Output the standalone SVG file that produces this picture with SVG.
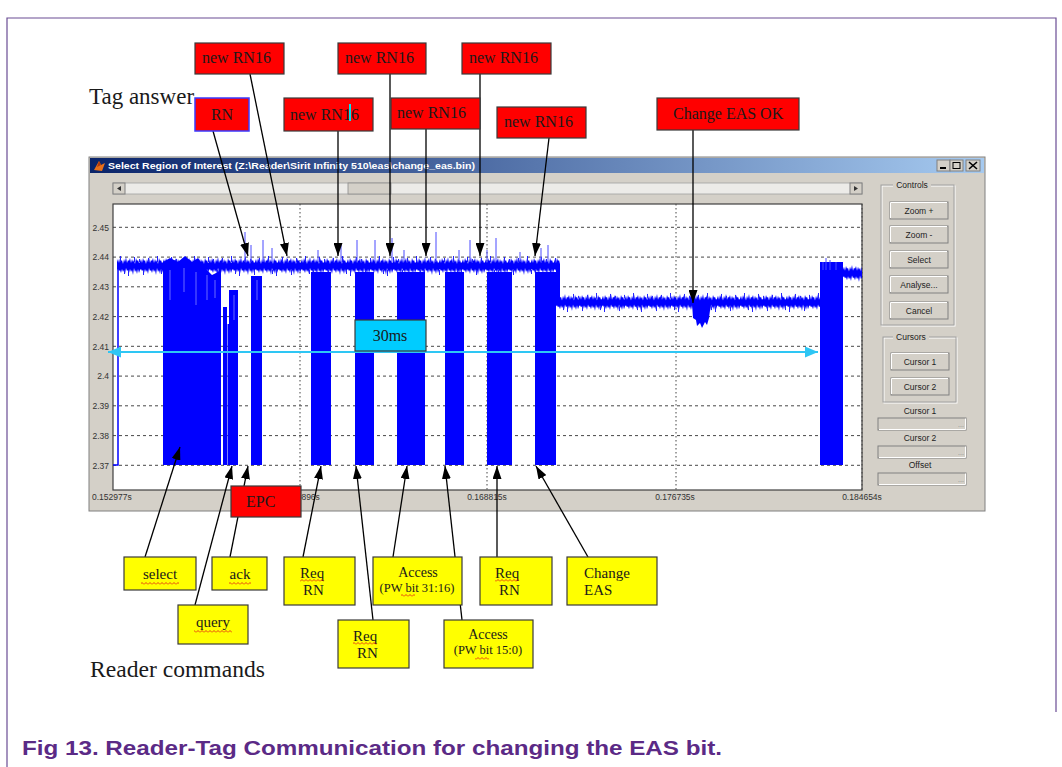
<svg xmlns="http://www.w3.org/2000/svg" width="1062" height="767" viewBox="0 0 1062 767">
<style>
  .serif{font-family:"Liberation Serif","Times New Roman",serif;fill:#1a1a1a}
  .ui{font-family:"Liberation Sans",Arial,sans-serif;fill:#222}
  .tick{font-family:"Liberation Sans",Arial,sans-serif;font-size:8.5px;fill:#333}
  .red{fill:#ff0000;stroke:#3a3a3a;stroke-width:1.2}
  .yel{fill:#ffff00;stroke:#3a3a3a;stroke-width:1.2}
  .grid{stroke:#333;stroke-width:0.9;stroke-dasharray:3 3;fill:none}
  .vgrid{stroke:#444;stroke-width:1;stroke-dasharray:1.5 2.5;fill:none}
  .btn{fill:#d4d0c8;stroke:#808080;stroke-width:1}
  .btnhi{fill:none;stroke:#ffffff;stroke-width:1}
  .field{fill:#d4d0c8;stroke:#808080;stroke-width:1}
  .conn{stroke:#000;stroke-width:1.3;fill:none;marker-end:url(#ah)}
  .sig{fill:#0000ff}
  .spk{stroke:#4a4aff;stroke-width:1}
  .sq{fill:url(#wavy)}
</style>
<defs>
  <marker id="ah" viewBox="0 0 13 9" refX="13" refY="4.5" markerWidth="13" markerHeight="9" markerUnits="userSpaceOnUse" orient="auto">
    <path d="M0,0 L13,4.5 L0,9 Z" fill="#000"/>
  </marker>
  <marker id="ahc" viewBox="0 0 13 11" refX="13" refY="5.5" markerWidth="13" markerHeight="11" markerUnits="userSpaceOnUse" orient="auto-start-reverse">
    <path d="M0,0 L13,5.5 L0,11 Z" fill="#2ec6f4"/>
  </marker>
  <linearGradient id="tbar" x1="0" y1="0" x2="1" y2="0">
    <stop offset="0" stop-color="#0a246a"/>
    <stop offset="1" stop-color="#a6caf0"/>
  </linearGradient>
  <!-- noisy signal band tile -->
  <pattern id="noise" patternUnits="userSpaceOnUse" width="23" height="20">
    <path fill="#0000ff" d="M0,6 L1,3 L2,7 L3,2 L4,5 L5,4 L6,8 L7,3 L8,6 L9,1 L10,7 L11,4 L12,5 L13,2 L14,7 L15,3 L16,6 L17,4 L18,8 L19,2 L20,5 L21,4 L22,7 L23,6 L23,14 L22,17 L21,13 L20,18 L19,14 L18,16 L17,12 L16,19 L15,14 L14,16 L13,13 L12,17 L11,14 L10,15 L9,12 L8,18 L7,14 L6,16 L5,13 L4,17 L3,14 L2,15 L1,13 L0,14 Z"/>
  </pattern>
  <!-- sparse longer excursions, different period to break up repetition -->
  <pattern id="noise2" patternUnits="userSpaceOnUse" width="37" height="20">
    <path stroke="#2020ff" stroke-width="1" fill="none" d="M3.5,6 V0 M11.5,14 V20 M17.5,6 V1 M26.5,14 V19 M31.5,6 V2 M7.5,14 V18 M22.5,6 V3"/>
  </pattern>
  <!-- spell-check squiggle -->
  <pattern id="wavy" patternUnits="userSpaceOnUse" width="4" height="3">
    <path d="M0,2.5 L2,0.5 L4,2.5" fill="none" stroke="#e01010" stroke-width="0.8"/>
  </pattern>
</defs>

<rect width="1062" height="767" fill="#ffffff"/>
<!-- page frame -->
<path d="M7,767 L7,18 L1056,18 L1056,712" fill="none" stroke="#6a4c94" stroke-width="1.2"/>

<!-- application window -->
<g id="window">
  <rect x="89" y="157" width="896" height="354" fill="#d4d0c8" stroke="#808080" stroke-width="1"/>
  <rect x="90" y="158" width="894" height="15" fill="url(#tbar)"/>
  <path d="M94,170 L99,161 L101,165 L105,163 L102,171 Z" fill="#e8701a"/>
  <path d="M99,161 L101,165 L97,167 Z" fill="#b33a0a"/>
  <text class="ui" x="108" y="169" font-size="9.5" font-weight="bold" style="fill:#ffffff" textLength="367" lengthAdjust="spacingAndGlyphs">Select Region of Interest (Z:\Reader\Sirit Infinity 510\eas\change_eas.bin)</text>
  <g>
    <rect x="937" y="160" width="13" height="11" class="btn"/>
    <rect x="950" y="160" width="13" height="11" class="btn"/>
    <rect x="966" y="160" width="14" height="11" class="btn"/>
    <rect x="940" y="167" width="6" height="2" fill="#000"/>
    <rect x="953" y="162.5" width="7" height="6" fill="none" stroke="#000" stroke-width="1"/>
    <path d="M969,162 L977,169 M977,162 L969,169" stroke="#000" stroke-width="1.6"/>
  </g>
  <!-- scrollbar -->
  <rect x="113" y="183" width="749" height="11" fill="#ecebe8" stroke="#a0a0a0" stroke-width="0.8"/>
  <rect x="113" y="183" width="12" height="11" class="btn"/>
  <path d="M121,186 L117,188.5 L121,191 Z" fill="#333"/>
  <rect x="850" y="183" width="12" height="11" class="btn"/>
  <path d="M854,186 L858,188.5 L854,191 Z" fill="#333"/>
  <rect x="348" y="183" width="43" height="11" fill="#d4d0c8" stroke="#8a8a8a" stroke-width="0.8"/>

  <!-- plot area -->
  <rect x="113" y="204" width="749" height="286" fill="#ffffff" stroke="#404040" stroke-width="1.2"/>
  <g class="grid">
    <path d="M113,227.3 H862 M113,257.1 H862 M113,286.8 H862 M113,316.6 H862 M113,346.3 H862 M113,376.1 H862 M113,405.8 H862 M113,435.6 H862 M113,465.3 H862"/>
  </g>
  <path class="vgrid" d="M300,204 V490 M487,204 V490 M676,204 V490 M862,204 V490"/>
  <g class="tick" text-anchor="end">
    <text x="109" y="230.5">2.45</text>
    <text x="109" y="260.3">2.44</text>
    <text x="109" y="290">2.43</text>
    <text x="109" y="319.8">2.42</text>
    <text x="109" y="349.5">2.41</text>
    <text x="109" y="379.3">2.4</text>
    <text x="109" y="409">2.39</text>
    <text x="109" y="438.8">2.38</text>
    <text x="109" y="468.5">2.37</text>
  </g>
  <g class="tick" text-anchor="middle">
    <text x="92" y="500" text-anchor="start">0.152977s</text>
    <text x="300" y="500">0.160896s</text>
    <text x="487" y="500">0.168815s</text>
    <text x="675" y="500">0.176735s</text>
    <text x="862" y="500">0.184654s</text>
  </g>

  <!-- measured signal -->
  <g id="signal">
    <path d="M113,465 H118 V268" stroke="#0000ff" stroke-width="1.5" fill="none"/>
    <g transform="translate(117,256)"><rect width="443" height="20" fill="url(#noise)"/><rect width="443" height="20" fill="url(#noise2)"/></g>
    <g transform="translate(556,293) scale(1,0.95)"><rect width="266" height="20" fill="url(#noise)"/><rect width="266" height="20" fill="url(#noise2)"/></g>
    <g transform="translate(843,264) scale(1,0.95)"><rect width="19" height="20" fill="url(#noise)"/></g>
    <rect x="556" y="268" width="4" height="36" class="sig"/>
    <path class="sig" d="M692,303 L693,318 L696,320 L697,326 L700,323 L702,328 L705,322 L707,325 L709,318 L711,303 Z"/>
    <path class="sig" d="M163,465 V262 L170,258 L178,262 L185,256 L192,262 L198,258 L205,268 L212,275 L218,272 L221,262 V465 Z"/>
    <path class="sig" d="M223,465 V307 L227,307 V465 Z"/>
    <path class="sig" d="M227.5,465 V324 L229,324 V465 Z"/>
    <path class="sig" d="M229,465 V290 L238,290 V465 Z"/>
    <rect x="251" y="276" width="11" height="189" class="sig"/>
    <rect x="311" y="272" width="20" height="193" class="sig"/>
    <rect x="355" y="272" width="19" height="193" class="sig"/>
    <rect x="397" y="272" width="28" height="193" class="sig"/>
    <rect x="445" y="272" width="19" height="193" class="sig"/>
    <rect x="487" y="272" width="25" height="193" class="sig"/>
    <rect x="535" y="272" width="21" height="193" class="sig"/>
    <rect x="820" y="262" width="23" height="203" class="sig"/>
    <path class="spk" d="M245,262 V232 M251,262 V245 M263,262 V240 M272,262 V248 M318,262 V250 M341,262 V245 M357,262 V240 M375,262 V240 M392,262 V238 M404,262 V250 M436,262 V232 M459,262 V250 M470,262 V240 M487,262 V250 M496,262 V238 M520,262 V252 M541,262 V248 M548,262 V245 M823,270 V262 M826,270 V258 M830,270 V260 M836,270 V262"/>
    <path d="M170,270 V300 M184,268 V292 M196,272 V305 M207,275 V300 M215,280 V298 M234,295 V320 M257,280 V300" stroke="#6a6aff" stroke-width="1"/>
  </g>

  <!-- time span marker -->
  <path d="M108,352 L818,352" stroke="#2ec6f4" stroke-width="2" fill="none" marker-start="url(#ahc)" marker-end="url(#ahc)"/>

  <!-- control panel -->
  <g id="controls">
    <rect x="882" y="186" width="73" height="140" fill="none" stroke="#ffffff" stroke-width="1"/>
    <rect x="881" y="185" width="73" height="140" fill="none" stroke="#a0a0a0" stroke-width="1"/>
    <rect x="893" y="180" width="38" height="10" fill="#d4d0c8"/>
    <text class="ui" x="912" y="188" font-size="8.5" text-anchor="middle">Controls</text>
    <g>
      <rect x="890" y="202" width="58" height="17" class="btn"/><path class="btnhi" d="M890.5,218 V202.5 H947"/>
      <text class="ui" x="919" y="213.5" font-size="8.5" text-anchor="middle">Zoom +</text>
      <rect x="890" y="226" width="58" height="17" class="btn"/><path class="btnhi" d="M890.5,242 V226.5 H947"/>
      <text class="ui" x="919" y="237.5" font-size="8.5" text-anchor="middle">Zoom -</text>
      <rect x="890" y="251" width="58" height="17" class="btn"/><path class="btnhi" d="M890.5,267 V251.5 H947"/>
      <text class="ui" x="919" y="262.5" font-size="8.5" text-anchor="middle">Select</text>
      <rect x="890" y="276" width="58" height="17" class="btn"/><path class="btnhi" d="M890.5,292 V276.5 H947"/>
      <text class="ui" x="919" y="287.5" font-size="8.5" text-anchor="middle">Analyse...</text>
      <rect x="890" y="302" width="58" height="17" class="btn"/><path class="btnhi" d="M890.5,318 V302.5 H947"/>
      <text class="ui" x="919" y="313.5" font-size="8.5" text-anchor="middle">Cancel</text>
    </g>
    <rect x="884" y="338" width="73" height="65" fill="none" stroke="#ffffff" stroke-width="1"/>
    <rect x="883" y="337" width="73" height="65" fill="none" stroke="#a0a0a0" stroke-width="1"/>
    <rect x="893" y="332" width="36" height="10" fill="#d4d0c8"/>
    <text class="ui" x="911" y="340" font-size="8.5" text-anchor="middle">Cursors</text>
    <rect x="891" y="353" width="58" height="17" class="btn"/><path class="btnhi" d="M891.5,369 V353.5 H948"/>
    <text class="ui" x="920" y="364.5" font-size="8.5" text-anchor="middle">Cursor 1</text>
    <rect x="891" y="378" width="58" height="17" class="btn"/><path class="btnhi" d="M891.5,394 V378.5 H948"/>
    <text class="ui" x="920" y="389.5" font-size="8.5" text-anchor="middle">Cursor 2</text>
    <text class="ui" x="920" y="414" font-size="8.5" text-anchor="middle">Cursor 1</text>
    <rect x="878" y="418" width="88" height="12" class="field"/><path d="M879,429.5 H965.5 V418.5" stroke="#fff" fill="none"/>
    <text class="ui" x="961" y="427" font-size="7" style="fill:#888" text-anchor="middle">...</text>
    <text class="ui" x="920" y="441" font-size="8.5" text-anchor="middle">Cursor 2</text>
    <rect x="878" y="446" width="88" height="12" class="field"/><path d="M879,457.5 H965.5 V446.5" stroke="#fff" fill="none"/>
    <text class="ui" x="961" y="455" font-size="7" style="fill:#888" text-anchor="middle">...</text>
    <text class="ui" x="920" y="468" font-size="8.5" text-anchor="middle">Offset</text>
    <rect x="878" y="473" width="88" height="12" class="field"/><path d="M879,484.5 H965.5 V473.5" stroke="#fff" fill="none"/>
    <text class="ui" x="961" y="482" font-size="7" style="fill:#888" text-anchor="middle">...</text>
  </g>
</g>

<!-- connectors -->
<g id="connectors">
  <path class="conn" d="M213,131 L248,256"/>
  <path class="conn" d="M250,74 L287,256"/>
  <path class="conn" d="M338,131 L338,256"/>
  <path class="conn" d="M390,74 L390,256"/>
  <path class="conn" d="M426,129 L426,256"/>
  <path class="conn" d="M480,74 L480,256"/>
  <path class="conn" d="M549,138 L535,256"/>
  <path class="conn" d="M693,130 L693,303"/>
  <path class="conn" d="M145,557 L180,447"/>
  <path class="conn" d="M195,605 L232,466"/>
  <path class="conn" d="M230,557 L248,466"/>
  <path class="conn" d="M303,557 L321,466"/>
  <path class="conn" d="M373,620 L356,466"/>
  <path class="conn" d="M393,557 L407,466"/>
  <path class="conn" d="M462,620 L445,466"/>
  <path class="conn" d="M497,557 L497,466"/>
  <path class="conn" d="M588,557 L536,466"/>
</g>

<text class="serif" x="89" y="104" font-size="23">Tag answer</text>
<text class="serif" x="90" y="677" font-size="23.6">Reader commands</text>

<!-- tag answer labels -->
<g id="tag-rn16-a"><rect class="red" x="195" y="43" width="89" height="31"/><text class="serif" x="202" y="63" font-size="16">new RN16</text></g>
<g id="tag-rn16-b"><rect class="red" x="338" y="43" width="88" height="31"/><text class="serif" x="345" y="63" font-size="16">new RN16</text></g>
<g id="tag-rn16-c"><rect class="red" x="462" y="43" width="89" height="31"/><text class="serif" x="469" y="63" font-size="16">new RN16</text></g>
<g id="tag-rn"><rect x="195" y="98" width="54" height="33" fill="#ff0000" stroke="#3a3aff" stroke-width="1.5"/><text class="serif" x="222" y="120" font-size="16" text-anchor="middle">RN</text></g>
<g id="tag-rn16-d"><rect class="red" x="284" y="98" width="89" height="33"/><text class="serif" x="290" y="120" font-size="16">new RN16</text><rect x="349" y="104" width="2" height="17" fill="#00e5ee"/></g>
<g id="tag-rn16-e"><rect class="red" x="391" y="98" width="89" height="31"/><text class="serif" x="397" y="118" font-size="16">new RN16</text></g>
<g id="tag-rn16-f"><rect class="red" x="497" y="107" width="89" height="31"/><text class="serif" x="504" y="127" font-size="16">new RN16</text></g>
<g id="tag-eas-ok"><rect class="red" x="657" y="98" width="142" height="32"/><text class="serif" x="673" y="119" font-size="16">Change EAS OK</text></g>
<g id="tag-epc"><rect class="red" x="231" y="486" width="70" height="31"/><text class="serif" x="246" y="507" font-size="16">EPC</text></g>
<g id="time-span"><rect x="355" y="320" width="71" height="31" fill="#00ccff" stroke="#3a3a3a" stroke-width="1.2"/><text class="serif" x="390" y="341" font-size="16" text-anchor="middle">30ms</text></g>

<!-- reader command labels -->
<g id="cmd-select"><rect class="yel" x="124" y="557" width="72" height="33"/><text class="serif" x="160" y="579" font-size="15" text-anchor="middle">select</text><rect class="sq" x="141" y="582" width="38" height="3"/></g>
<g id="cmd-query"><rect class="yel" x="178" y="605" width="70" height="39"/><text class="serif" x="213" y="627" font-size="15" text-anchor="middle">query</text><rect class="sq" x="194" y="630" width="38" height="3"/></g>
<g id="cmd-ack"><rect class="yel" x="212" y="557" width="55" height="33"/><text class="serif" x="240" y="579" font-size="15" text-anchor="middle">ack</text><rect class="sq" x="229" y="582" width="22" height="3"/></g>
<g id="cmd-reqrn-1"><rect class="yel" x="284" y="557" width="71" height="48"/><text class="serif" x="300" y="578" font-size="15">Req</text><text class="serif" x="303" y="595" font-size="15">RN</text><rect class="sq" x="300" y="579" width="24" height="3"/></g>
<g id="cmd-access-1"><rect class="yel" x="373" y="557" width="89" height="48"/><text class="serif" x="418" y="577" font-size="14" text-anchor="middle">Access</text><text class="serif" x="417" y="592" font-size="12.5" text-anchor="middle">(PW bit 31:16)</text><rect class="sq" x="401" y="594" width="14" height="3"/></g>
<g id="cmd-reqrn-2"><rect class="yel" x="338" y="620" width="71" height="48"/><text class="serif" x="353" y="641" font-size="15">Req</text><text class="serif" x="357" y="658" font-size="15">RN</text><rect class="sq" x="353" y="642" width="24" height="3"/></g>
<g id="cmd-access-2"><rect class="yel" x="444" y="620" width="89" height="48"/><text class="serif" x="488" y="639" font-size="14" text-anchor="middle">Access</text><text class="serif" x="488" y="654" font-size="12.5" text-anchor="middle">(PW bit 15:0)</text><rect class="sq" x="475" y="657" width="14" height="3"/></g>
<g id="cmd-reqrn-3"><rect class="yel" x="480" y="557" width="72" height="48"/><text class="serif" x="495" y="578" font-size="15">Req</text><text class="serif" x="499" y="595" font-size="15">RN</text><rect class="sq" x="495" y="579" width="24" height="3"/></g>
<g id="cmd-change-eas"><rect class="yel" x="567" y="557" width="90" height="48"/><text class="serif" x="584" y="578" font-size="15">Change</text><text class="serif" x="584" y="595" font-size="15">EAS</text></g>

<text x="22" y="755" font-family="'Liberation Sans',Arial,sans-serif" font-size="21" font-weight="bold" fill="#5b2a86" textLength="700" lengthAdjust="spacingAndGlyphs">Fig 13. Reader-Tag Communication for changing the EAS bit.</text>
</svg>
